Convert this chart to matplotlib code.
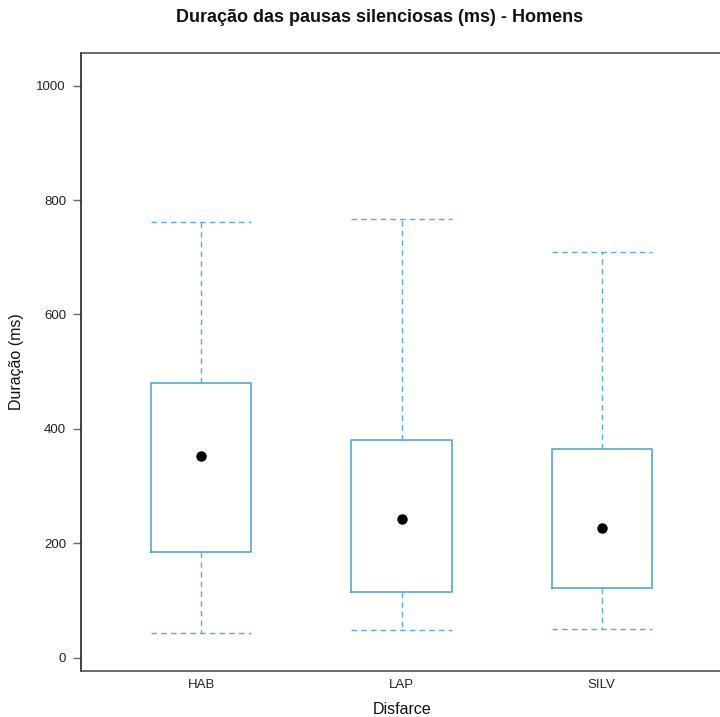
import matplotlib
matplotlib.use("Agg")
import matplotlib.pyplot as plt

plt.rcParams['font.family'] = ['Liberation Sans', 'DejaVu Sans']

categories = ["HAB", "LAP", "SILV"]
whisker_low = [44, 48, 51]
q1 = [184, 115, 121]
median = [353, 243, 226]
q3 = [481, 381, 364]
whisker_high = [761, 767, 709]
y_ticks = [0, 200, 400, 600, 800, 1000]

box_color = "#4A9FCC"
whisk_color = "#5AAAD6"

W, H = 720, 717
fig = plt.figure(figsize=(W / 100, H / 100), dpi=100)
# axes in pixel coords: left 81.3, right 721.7, top 53.3, bottom 670.7
l, r, t, b = 81.3, 721.7, 53.3, 670.7
ax = fig.add_axes([l / W, 1 - b / H, (r - l) / W, (b - t) / H])

stats = []
for i, c in enumerate(categories):
    stats.append(dict(label=c, whislo=whisker_low[i], q1=q1[i], med=median[i],
                      q3=q3[i], whishi=whisker_high[i], fliers=[]))

pos = list(range(1, len(categories) + 1))
ax.bxp(stats, positions=pos, widths=0.5, showfliers=False,
       boxprops=dict(color=box_color, linewidth=1.1),
       whiskerprops=dict(color=whisk_color, linewidth=1.0, linestyle=(0, (4, 3))),
       capprops=dict(color=whisk_color, linewidth=1.0, linestyle=(0, (4, 3))),
       medianprops=dict(linewidth=0),
       capwidths=0.5)
ax.plot(pos, median, 'o', color='black', markersize=6.5, zorder=5)

ax.set_xlim(0.4, 3.6)
ax.set_ylim(-22.7, 1056.6)
ax.set_yticks(y_ticks)
ax.set_yticklabels([str(v) for v in y_ticks], fontsize=9.5, color='#222222')
ax.set_xticks(pos)
ax.set_xticklabels(categories, fontsize=9.5, color='#222222')
ax.tick_params(axis='y', length=6, color='#666666', width=1, pad=5)
ax.tick_params(axis='x', length=0, pad=6)

for s in ax.spines.values():
    s.set_color('#505050')
    s.set_linewidth(1.2)
ax.spines['left'].set_color('#222222')

fig.text(380 / W, 1 - 17 / H, "Duração das pausas silenciosas (ms) - Homens",
         ha='center', va='center', fontsize=13, fontweight='bold', color='#111111')
fig.text(17 / W, 1 - 362 / H, "Duração (ms)", rotation=90, ha='center', va='center',
         fontsize=11.5, color='#111111')
fig.text(402 / W, 1 - 710 / H, "Disfarce", ha='center', va='center',
         fontsize=11.5, color='#111111')

fig.savefig("out.png", dpi=100)
